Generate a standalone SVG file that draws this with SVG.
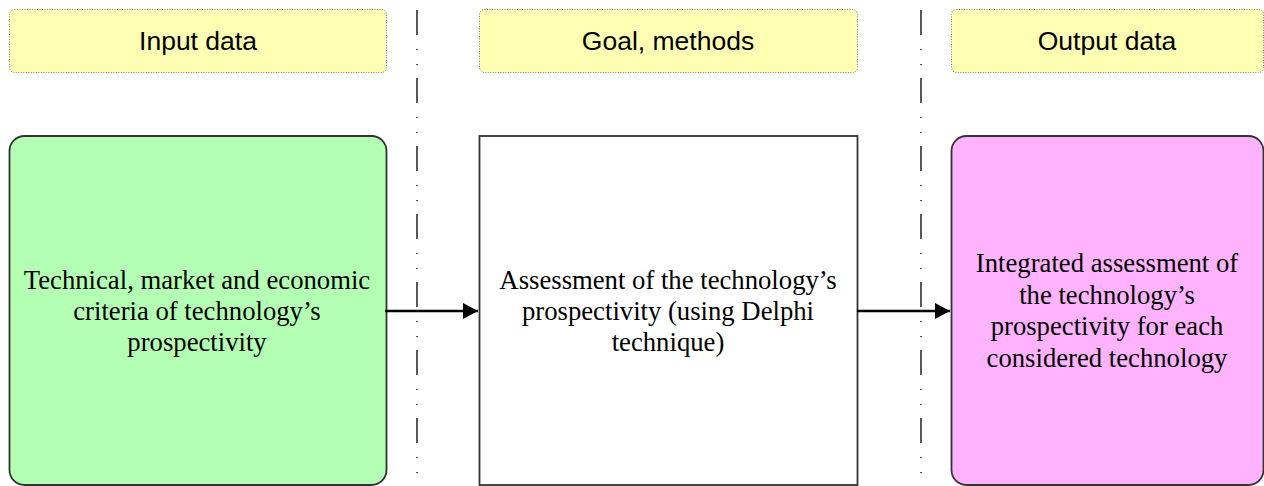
<svg xmlns="http://www.w3.org/2000/svg" width="1264" height="486" viewBox="0 0 1264 486">
<style>
.hdr{fill:#FFFFB3;stroke:#808080;stroke-width:1;stroke-dasharray:1 1.5;}
.htxt{font-family:"Liberation Sans",Arial,sans-serif;font-size:26.5px;fill:#000;text-anchor:middle;}
.box{stroke:#333333;stroke-width:1.8;}
.btxt{font-family:"Liberation Serif","Times New Roman",serif;font-size:26.7px;fill:#000;text-anchor:middle;}
.sep{stroke:#000;stroke-width:1.3;fill:none;stroke-dasharray:25 14 1 14 1 13;}
.conn{stroke:#000;stroke-width:2.5;fill:none;}
</style>
<defs>
<marker id="arr" markerWidth="16" markerHeight="16" viewBox="0 0 16 16" refX="15" refY="8" markerUnits="userSpaceOnUse" orient="auto">
<path d="M0,0 L15,8 L0,16 Z" fill="#000"/>
</marker>
</defs>
<g id="separators">
<line class="sep" x1="417" y1="10" x2="417" y2="486"/>
<line class="sep" x1="921" y1="10" x2="921" y2="486"/>
</g>
<g id="hdr-input">
<rect class="hdr" x="9.5" y="9.5" width="377" height="63" rx="5"/>
<text class="htxt" x="198" y="50">Input data</text>
</g>
<g id="hdr-goal">
<rect class="hdr" x="479.5" y="9.5" width="378" height="63" rx="5"/>
<text class="htxt" x="668" y="50">Goal, methods</text>
</g>
<g id="hdr-output">
<rect class="hdr" x="951.5" y="9.5" width="312" height="63" rx="5"/>
<text class="htxt" x="1107" y="50">Output data</text>
</g>
<g id="node-input">
<rect class="box" x="9.5" y="136" width="377" height="349" rx="15" fill="#B3FFB3"/>
<text class="btxt" x="197" y="289">Technical, market and economic</text>
<text class="btxt" x="197" y="320">criteria of technology’s</text>
<text class="btxt" x="197" y="351">prospectivity</text>
</g>
<g id="node-method">
<rect class="box" x="479.5" y="136" width="378" height="349" fill="#FFFFFF"/>
<text class="btxt" x="668" y="289">Assessment of the technology’s</text>
<text class="btxt" x="668" y="320">prospectivity (using Delphi</text>
<text class="btxt" x="668" y="351">technique)</text>
</g>
<g id="node-output">
<rect class="box" x="951.5" y="136" width="312" height="349" rx="15" fill="#FFB3FF"/>
<text class="btxt" x="1107" y="272">Integrated assessment of</text>
<text class="btxt" x="1107" y="304">the technology’s</text>
<text class="btxt" x="1107" y="335">prospectivity for each</text>
<text class="btxt" x="1107" y="367">considered technology</text>
</g>
<g id="connectors">
<line class="conn" x1="385" y1="311" x2="478" y2="311" marker-end="url(#arr)"/>
<line class="conn" x1="857" y1="311" x2="950" y2="311" marker-end="url(#arr)"/>
</g>
</svg>
